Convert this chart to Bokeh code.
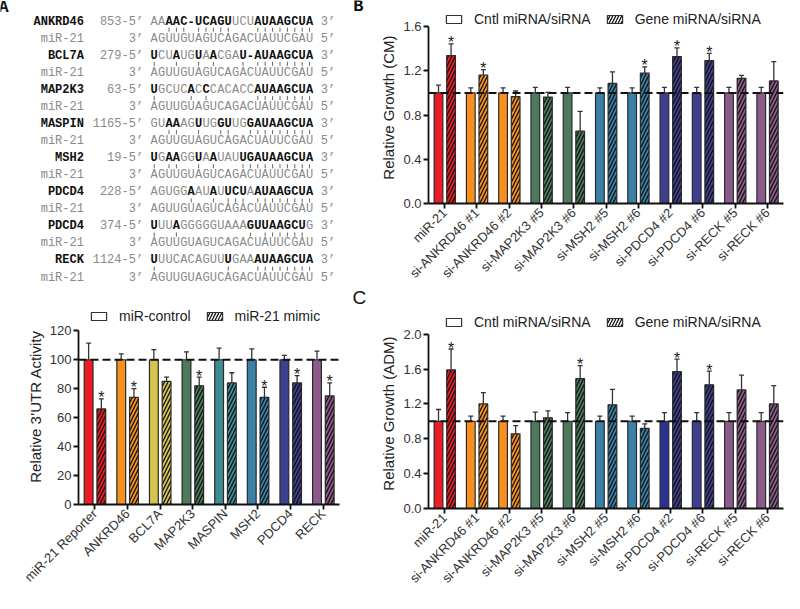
from math import pi
from bokeh.plotting import figure
from bokeh.models import (ColumnDataSource, Range1d, FactorRange, Span, Whisker, TeeHead,
                          Legend, LegendItem, FixedTicker, PrintfTickFormatter)
from bokeh.transform import dodge
from bokeh.layouts import row, column
from bokeh.core.properties import value
from bokeh.embed import file_html
from bokeh.resources import INLINE

# ---------------- Panel A (sequence alignments) ----------------
genes = ["ANKRD46", "BCL7A", "MAP2K3", "MASPIN", "MSH2", "PDCD4", "PDCD4", "RECK"]
sites = ["853", "279", "63", "1165", "19", "228", "374", "1124"]
targets = ["AAAAC-UCAGUUCUAUAAGCUA", "UCUAUGUAACGAU-AUAAGCUA", "UGCUCACCCACACCAUAAGCUA",
           "GUAAAGUUGGUUGGAUAAGCUA", "UGAAGGUAAUAUUGAUAAGCUA", "AGUGGAAUAUUCUAAUAAGCUA",
           "UUUAGGGGGUAAAGUUAAGCUG", "UUUCACAGUUUGAAAUAAGCUA"]
mir21 = "AGUUGUAGUCAGACUAUUCGAU"
seed = list(range(14, 22))
bold_pos = [[2, 3, 4, 5, 6, 7, 8, 9, 10] + seed,
            [0, 3, 6, 8, 12, 13] + seed,
            [0, 5, 7] + seed,
            [2, 3, 6, 9, 10, 13] + seed,
            [0, 2, 3, 6, 8, 12, 13] + seed,
            [5, 8, 10, 11, 12] + seed,
            [0, 3, 13, 14, 15, 16, 17, 18, 19, 20],
            [0, 10] + seed]
pair_pos = [[2, 3, 4, 6, 7, 8, 9, 10] + seed,
            [0, 3, 6, 8, 12] + seed,
            [0, 5, 7] + seed,
            [2, 3, 6, 9, 10, 13] + seed,
            [0, 2, 3, 6, 8, 12, 13] + seed,
            [5, 8, 10, 11, 12] + seed,
            [0, 3, 13, 15, 16, 17, 18, 19, 20],
            [0, 10] + seed]
panel_letters = ["A", "B", "C"]

# ---------------- 3'UTR reporter data ----------------
utr_cats = ["miR-21 Reporter", "ANKRD46", "BCL7A", "MAP2K3", "MASPIN", "MSH2", "PDCD4", "RECK"]
utr_ctrl = [100, 100, 100, 100, 100, 100, 100, 100]
utr_ctrl_hi = [111.5, 104, 107, 105.5, 108, 107.5, 103, 106]
utr_mimic = [66, 74, 85, 82, 84, 74, 84, 75]
utr_mimic_hi = [73, 80, 88, 88, 91, 81, 89, 84]
utr_star = [1, 1, 0, 1, 0, 1, 1, 1]
utr_colors = ["#ED1C24", "#F7901E", "#D5C550", "#4B7B5A", "#3D8D93", "#3A80A7", "#3E3F8E", "#8C5B8B"]

# ---------------- Growth data ----------------
gr_cats = ["miR-21", "si-ANKRD46 #1", "si-ANKRD46 #2", "si-MAP2K3 #5", "si-MAP2K3 #6",
           "si-MSH2 #5", "si-MSH2 #6", "si-PDCD4 #2", "si-PDCD4 #6", "si-RECK #5", "si-RECK #6"]
gr_colors = ["#ED1C24", "#F7901E", "#F7901E", "#4B7B5A", "#4B7B5A", "#3A80A7", "#3A80A7",
             "#3E3F8E", "#3E3F8E", "#8C5B8B", "#8C5B8B"]
cm_ctrl = [1.0] * 11
cm_ctrl_hi = [1.07, 1.045, 1.045, 1.05, 1.05, 1.045, 1.045, 1.05, 1.05, 1.05, 1.05]
cm_gene = [1.337, 1.162, 0.966, 0.962, 0.654, 1.086, 1.18, 1.328, 1.292, 1.132, 1.108]
cm_gene_hi = [1.443, 1.21, 1.017, 1.005, 0.833, 1.19, 1.235, 1.407, 1.358, 1.159, 1.283]
cm_star = [1, 1, 0, 0, 0, 0, 1, 1, 1, 0, 0]
adm_ctrl = [1.0] * 11
adm_ctrl_hi = [1.136, 1.06, 1.06, 1.106, 1.10, 1.06, 1.06, 1.10, 1.10, 1.10, 1.10]
adm_gene = [1.59, 1.20, 0.857, 1.04, 1.49, 1.19, 0.92, 1.57, 1.42, 1.36, 1.20]
adm_gene_hi = [1.83, 1.33, 0.95, 1.12, 1.64, 1.366, 0.97, 1.715, 1.576, 1.53, 1.41]
adm_star = [1, 0, 0, 0, 1, 0, 0, 1, 1, 0, 0]
adm_ctrl_colors = ["#ED1C24", "#F7901E", "#F7901E", "#4B7B5A", "#4B7B5A", "#3A80A7", "#3A80A7",
                   "#2C3192", "#3E3F8E", "#8C5B8B", "#8C5B8B"]

MONO = "Liberation Mono"
SANS = "Liberation Sans"
GRAY = "#8a8a8a"

# ================= sequence panel (also carries the A / B / C letters) =================
W_TXT, H_TXT = 372, 306
CH, ROWH, X0, Y0 = 7.4, 17.07, 150, 21
pt = figure(width=W_TXT, height=H_TXT, x_range=Range1d(-X0 / CH, (W_TXT - X0) / CH),
            y_range=Range1d(-(H_TXT - Y0) / ROWH, Y0 / ROWH), x_axis_type=None, y_axis_type=None,
            toolbar_location=None, output_backend="svg", min_border=0)
pt.grid.visible = False
pt.outline_line_color = None

bx, by, bt, nx, ny, nt = [], [], [], [], [], []
px, py0, py1 = [], [], []
for r, seq in enumerate(targets):
    for i, ch in enumerate(seq):
        if i in bold_pos[r]:
            bx.append(i + 0.5); by.append(-2 * r); bt.append(ch)
        else:
            nx.append(i + 0.5); ny.append(-2 * r); nt.append(ch)
    for i, ch in enumerate(mir21):
        nx.append(i + 0.5); ny.append(-2 * r - 1); nt.append(ch)
    for i in pair_pos[r]:
        px.append(i + 0.5); py0.append(-2 * r - 0.36); py1.append(-2 * r - 0.60)

common = dict(text_font=value(MONO), text_font_size="12px", text_baseline="middle")
pt.text(x=nx, y=ny, text=nt, text_align="center", text_color=GRAY, **common)
pt.text(x=bx, y=by, text=bt, text_align="center", text_color="#111111",
        text_font_style="bold", **common)
pt.segment(x0=px, y0=py0, x1=px, y1=py1, line_color="#666666", line_width=1)

rows_t = [-2 * r for r in range(len(genes))]
rows_m = [-2 * r - 1 for r in range(len(genes))]
n = len(genes)
pt.text(x=[-9] * n, y=rows_t, text=genes, text_align="right", text_color="#111111",
        text_font_style="bold", **common)
pt.text(x=[-1] * n, y=rows_t, text=[s + "-5\u2019" for s in sites], text_align="right",
        text_color=GRAY, **common)
pt.text(x=[-9] * n, y=rows_m, text=["miR-21"] * n, text_align="right", text_color=GRAY, **common)
pt.text(x=[-1] * n, y=rows_m, text=["3\u2019"] * n, text_align="right", text_color=GRAY, **common)
pt.text(x=[23] * n, y=rows_t, text=["3\u2019"] * n, text_align="left", text_color=GRAY, **common)
pt.text(x=[23] * n, y=rows_m, text=["5\u2019"] * n, text_align="left", text_color=GRAY, **common)
pt.text(x=[-19.86, 28.1], y=[0.82, 0.88], text=panel_letters[:2], text_align="center",
        text_baseline="middle", text_font=value(MONO), text_font_style="bold",
        text_font_size="17px", text_color="#111111")
pt.text(x=[28.24], y=[-16.17], text=panel_letters[2:], text_align="center",
        text_baseline="middle", text_font=value(SANS), text_font_size="19px", text_color="#111111")


# ================= bar panels =================
def bar_panel(cats, ctrl, ctrl_hi, gene, gene_hi, stars, colors, ctrl_colors, ylabel, yticks, fmt,
              width, height, borders, y_end, legend_labels, legend_xy):
    bl, br, bt_, bb = borders
    p = figure(width=width, height=height, x_range=FactorRange(factors=cats),
               y_range=Range1d(0, y_end), toolbar_location=None, output_backend="svg",
               min_border_left=bl, min_border_right=br, min_border_top=bt_, min_border_bottom=bb)
    p.grid.visible = False
    p.outline_line_color = None
    src = ColumnDataSource(dict(cat=cats, ctrl=ctrl, ctrl_hi=ctrl_hi, gene=gene, gene_hi=gene_hi,
                                color=colors, ccolor=ctrl_colors))
    xc = dodge("cat", -0.19, range=p.x_range)
    xg = dodge("cat", 0.2, range=p.x_range)
    p.vbar(x=xc, top="ctrl", width=0.27, fill_color="ccolor", line_color="#2a2a2a",
           line_width=1.2, source=src)
    p.vbar(x=xg, top="gene", width=0.27, fill_color="color", line_color="#2a2a2a",
           line_width=1.2, hatch_pattern="/", hatch_color="#111111", hatch_weight=1.3,
           hatch_scale=7, source=src)
    for base, lo, hi in ((xc, "ctrl", "ctrl_hi"), (xg, "gene", "gene_hi")):
        p.add_layout(Whisker(source=src, base=base, lower=lo, upper=hi, lower_head=None,
                             upper_head=TeeHead(size=5, line_color="#333333", line_width=1.3),
                             line_color="#333333", line_width=1.3, level="glyph"))
    s_cat = [c for c, s in zip(cats, stars) if s]
    s_y = [h for h, s in zip(gene_hi, stars) if s]
    ssrc = ColumnDataSource(dict(cat=s_cat, y=s_y, t=["*"] * len(s_cat)))
    p.text(x=dodge("cat", 0.2, range=p.x_range), y="y", text="t", source=ssrc,
           text_align="center", text_baseline="alphabetic", y_offset=-1,
           text_font=value(SANS), text_font_size="16px", text_color="#222222")
    p.add_layout(Span(location=ctrl[0], dimension="width", line_dash="8 4", line_width=2,
                      line_color="#111111"))
    # legend proxies: zero-height bars sitting on the baseline (only their legend swatch shows)
    r1 = p.vbar(x=cats[:1], top=[0], width=0.27, fill_color="white", line_color="#333333",
                line_width=1.2)
    r2 = p.vbar(x=cats[:1], top=[0], width=0.27, fill_color="white", line_color="#333333",
                line_width=1.2, hatch_pattern="/", hatch_color="#111111", hatch_weight=1.3,
                hatch_scale=6)
    leg = Legend(items=[LegendItem(label=legend_labels[0], renderers=[r1]),
                        LegendItem(label=legend_labels[1], renderers=[r2])],
                 orientation="horizontal", location=legend_xy, glyph_width=19, glyph_height=10,
                 label_standoff=11, spacing=14, padding=0, margin=0, border_line_color=None,
                 background_fill_alpha=0, label_text_font=SANS, label_text_font_size="14px",
                 label_text_color="#222222", label_height=12)
    p.add_layout(leg)
    # axes
    p.yaxis.ticker = FixedTicker(ticks=yticks)
    p.yaxis.bounds = (yticks[0], yticks[-1])
    p.yaxis.formatter = PrintfTickFormatter(format=fmt)
    p.axis.axis_line_width = 1.8
    p.axis.axis_line_color = "#111111"
    p.axis.major_tick_line_width = 1.8
    p.axis.major_tick_line_color = "#111111"
    p.axis.major_tick_out = 5
    p.axis.major_tick_in = 0
    p.axis.minor_tick_out = 0
    p.axis.minor_tick_in = 0
    p.axis.major_label_text_font = SANS
    p.axis.major_label_text_font_size = "13px"
    p.axis.major_label_text_color = "#333333"
    p.xaxis.major_label_orientation = pi / 4
    p.xaxis.major_label_standoff = 2
    p.yaxis.major_label_standoff = 2
    p.yaxis.axis_label = ylabel
    p.yaxis.axis_label_text_font = SANS
    p.yaxis.axis_label_text_font_style = "normal"
    p.yaxis.axis_label_text_font_size = "15px"
    p.yaxis.axis_label_text_color = "#222222"
    p.yaxis.axis_label_standoff = 3
    return p


pa = bar_panel(utr_cats, utr_ctrl, utr_ctrl_hi, utr_mimic, utr_mimic_hi, utr_star, utr_colors,
               utr_colors, "Relative 3\u2019UTR Activity", [0, 20, 40, 60, 80, 100, 120], "%d",
               372, 287, (78, 33, 2, 83), 135.4, ["miR-control", "miR-21 mimic"], (11, 180))
pb = bar_panel(gr_cats, cm_ctrl, cm_ctrl_hi, cm_gene, cm_gene_hi, cm_star, gr_colors, gr_colors,
               "Relative  Growth (CM)", [0, 0.4, 0.8, 1.2, 1.6], "%.1f",
               412, 292, (56, 1, 7, 89), 1.7721, ["Cntl miRNA/siRNA", "Gene miRNA/siRNA"], (16, 176))
pc = bar_panel(gr_cats, adm_ctrl, adm_ctrl_hi, adm_gene, adm_gene_hi, adm_star, gr_colors,
               adm_ctrl_colors, "Relative  Growth (ADM)", [0, 0.4, 0.8, 1.2, 1.6, 2.0], "%.1f",
               412, 301, (56, 1, 22, 82), 2.226, ["Cntl miRNA/siRNA", "Gene miRNA/siRNA"], (16, 178))

layout = row(column(row(pt), row(pa)), column(row(pb), row(pc)))
open("out.html", "w").write(file_html(layout, INLINE))
